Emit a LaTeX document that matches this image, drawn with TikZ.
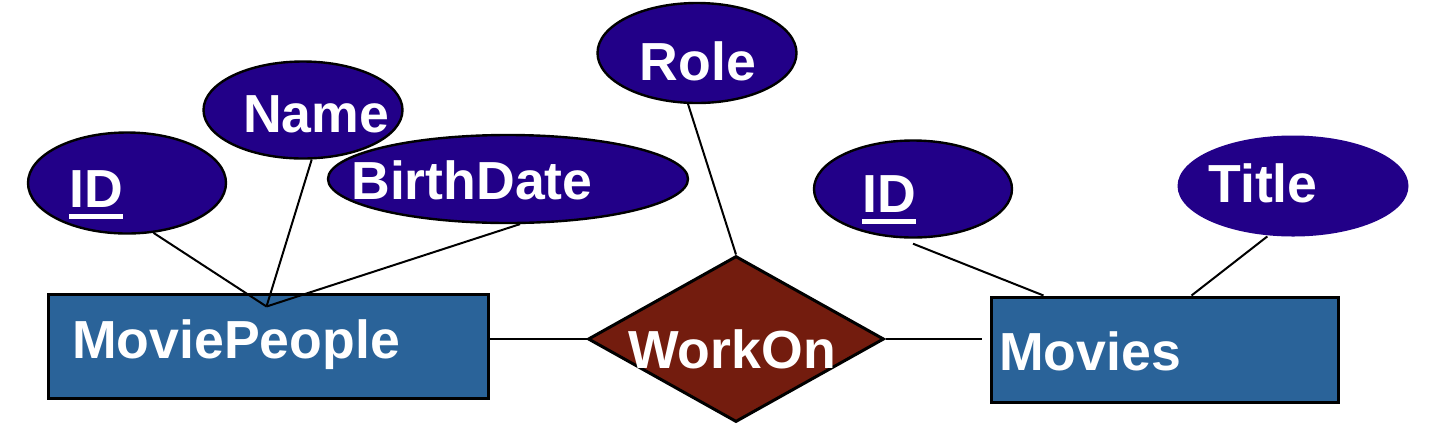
\documentclass[tikz,border=0pt]{standalone}
\usepackage{fontspec}
\setmainfont{Liberation Sans}
\usetikzlibrary{shapes.geometric}
\usetikzlibrary{calc}
\definecolor{attrblue}{HTML}{220088}
\definecolor{entblue}{HTML}{2A6399}
\definecolor{relred}{HTML}{731C0E}
\newcommand\pkey[1]{\setbox0\hbox{#1}\rlap{\rule[-6pt]{\wd0}{2.5pt}}\box0}

\begin{document}
\begin{tikzpicture}[x=0.5pt, y=-0.5pt, line width=1pt,
  attr/.style={ellipse, draw=black, line width=1.2pt, fill=attrblue, inner sep=0pt},
  entity/.style={rectangle, draw=black, line width=1.5pt, fill=entblue, inner sep=0pt},
  rel/.style={diamond, draw=black, line width=1.5pt, fill=relred, inner sep=0pt},
  txt/.style={anchor=base, inner sep=0pt, text=white, font=\fontsize{26.8}{30}\selectfont\bfseries}]
  \useasboundingbox (0,0) rectangle (1438,424);
  % attributes
  \node[attr, minimum width=99pt, minimum height=50.5pt] (mpID) at (127,183) {};
  \node[attr, minimum width=99.5pt, minimum height=48.5pt] (mpName) at (303,110) {};
  \node[attr, minimum width=180pt, minimum height=44pt] (mpBirth) at (508,179) {};
  \node[attr, minimum width=99.5pt, minimum height=50pt] (role) at (697,53) {};
  \node[attr, minimum width=99pt, minimum height=48.5pt] (mvID) at (913,189) {};
  \node[attr, draw=none, minimum width=115.5pt, minimum height=50.5pt] (mvTitle) at (1293,186) {};
  % entities and relationship
  \node[entity, minimum width=220pt, minimum height=52pt] (mp) at (268,346) {};
  \node[entity, minimum width=173.5pt, minimum height=52.5pt] (mv) at (1164.5,349.5) {};
  \node[rel, minimum width=148pt, minimum height=83pt] (wo) at (736,339) {};
  % labels
  \node[txt] (mpIDt) at (96,207) {\pkey{ID}};
  \node[txt] (mpNamet) at (316,132) {Name};
  \node[txt] (mpBirtht) at (472,199) {BirthDate};
  \node[txt] (rolet) at (698,80) {Role};
  \node[txt] (mvIDt) at (889,212) {\pkey{ID}};
  \node[txt] (mvTitlet) at (1263,202) {Title};
  \node[txt] (mpt) at (236,358) {MoviePeople};
  \node[txt] (mvt) at (1090,370) {Movies};
  \node[txt] (wot) at (732,368) {WorkOn};
  % connectors
  \coordinate (hub) at ($(mp.north west)+(220,14)$);
  \draw (mpID.-62) -- (hub);
  \draw (mpName.-80) -- (hub);
  \draw (mpBirth.-75) -- (hub);
  \draw (role.-100) -- (wo.north);
  \draw (wo.west) -- (wo.west -| mp.east);
  \draw (wo.east) -- ($(wo.east -| mv.west)+(-8,0)$);
  \draw ([yshift=-2.5pt]mvID.south) -- ($(mv.north west)+(54,0)$);
  \draw (mvTitle.-117) -- ($(mv.north west)+(202,0)$);
\end{tikzpicture}
\end{document}
